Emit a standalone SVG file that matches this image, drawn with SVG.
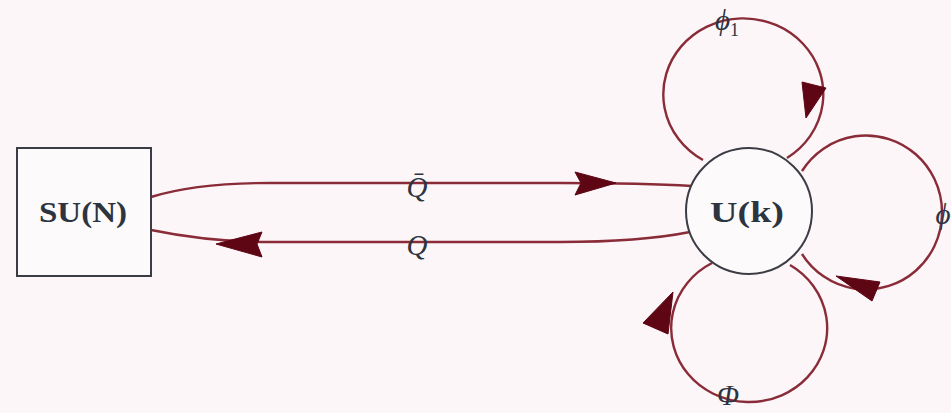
<svg xmlns="http://www.w3.org/2000/svg" width="951" height="413" viewBox="0 0 951 413">
<style>
.bg{fill:#fcf6f9}
.edge{fill:none;stroke:#8a2b38;stroke-width:2.4}
.head{fill:#5e0614;stroke:#5e0614;stroke-width:1;stroke-linejoin:round}
.node{fill:#fdfafc;stroke:#3c3c44;stroke-width:2}
.nlab{font-family:"Liberation Serif",serif;font-weight:bold;font-size:29px;fill:#2c3440;text-anchor:middle}
.elab{font-family:"Liberation Serif",serif;font-style:italic;font-size:29px;fill:#2c3440;text-anchor:middle}
</style>
<rect class="bg" x="0" y="0" width="951" height="413"/>
<g id="connectors">
  <path id="e-qbar" class="edge" d="M151,197 C180,188 220,183 270,183 L560,183 C620,183 660,184 692,186"/>
  <polygon class="head" points="616,183 575,172 581,183 575,195"/>
  <path id="e-q" class="edge" d="M690,232 C650,240 600,242 560,242 L270,242 C220,242 180,236 151,230"/>
  <polygon class="head" points="216,244 262,232 257,244 262,257"/>
  <path id="e-phi1" class="edge" d="M703,160 A80 76 0 1 1 787,158"/>
  <polygon class="head" points="806,118 802,82 826,88"/>
  <path id="e-phi" class="edge" d="M802,171 A76 77 0 1 1 802,254"/>
  <polygon class="head" points="836,276 880,282 872,301"/>
  <path id="e-Phi" class="edge" d="M790,265 A78 74 0 1 1 712,263"/>
  <polygon class="head" points="673,292 643,323 668,334"/>
  <text class="elab" x="417" y="197">Q̄</text>
  <text class="elab" x="417" y="255">Q</text>
  <text class="elab" x="727" y="30">ϕ<tspan font-size="18" dy="6" font-style="normal">1</tspan></text>
  <text class="elab" x="943" y="224">ϕ</text>
  <text class="elab" x="728" y="405" font-size="22" font-style="normal">Φ</text>
</g>
<g id="node-sun">
  <rect class="node" x="17" y="148" width="134" height="128"/>
  <text class="nlab" x="83" y="222" textLength="88" lengthAdjust="spacingAndGlyphs">SU(N)</text>
</g>
<g id="node-uk">
  <circle class="node" cx="749" cy="211" r="63"/>
  <text class="nlab" x="747" y="222" textLength="74" lengthAdjust="spacingAndGlyphs">U(k)</text>
</g>
</svg>
